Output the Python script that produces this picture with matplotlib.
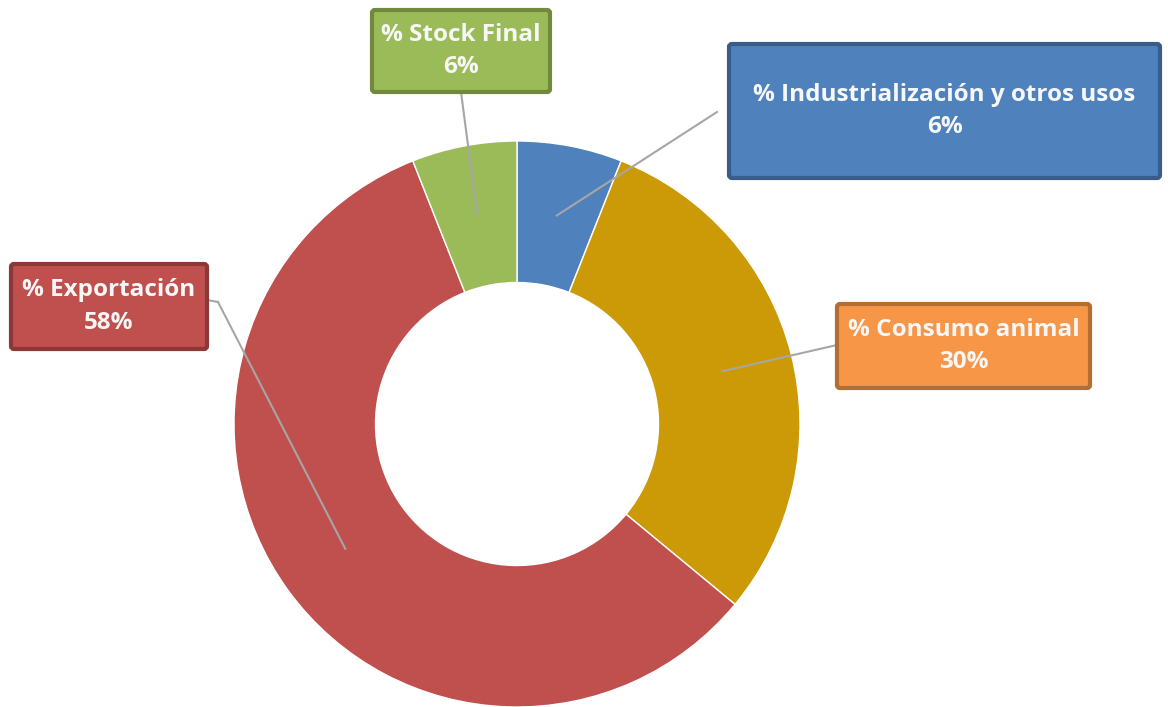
import numpy as np
import matplotlib
matplotlib.use("Agg")
import matplotlib.pyplot as plt
from matplotlib.patches import FancyBboxPatch

labels = ["% Industrialización y otros usos", "% Consumo animal", "% Exportación", "% Stock Final"]
values = [6, 30, 58, 6]
wedge_colors = ["#4F81BD", "#CC9A06", "#C0504D", "#9BBB59"]
box_colors = ["#4F81BD", "#F79646", "#C0504D", "#9BBB59"]
edge_colors = ["#385D8A", "#B66D31", "#8C3836", "#71893F"]

# label boxes in pixel coords (x0, y0 top, x1, y1 bottom)
boxes = [(729, 44, 1160, 178), (837, 304, 1090, 388), (11, 264, 207, 349), (372, 10, 550, 92)]
# point where the leader line meets the box
box_anchor = [(717, 112), (837, 345), (218, 302), (461, 92)]

W, H = 1168, 707
fig = plt.figure(figsize=(W / 100, H / 100), dpi=100)
ax = fig.add_axes([0, 0, 1, 1])

cx, cy, R = 517, H - 424, 283
width = 0.5
wedges, _ = ax.pie(values, colors=wedge_colors, startangle=90, counterclock=False,
                   center=(cx, cy), radius=R,
                   wedgeprops=dict(width=R * width, edgecolor="white", linewidth=1))
# pie resets the limits, so set them afterwards
ax.set_xlim(0, W)
ax.set_ylim(0, H)
ax.set_aspect("equal")
ax.axis("off")

mid_r = R * (1 - width / 2)
for i, w in enumerate(wedges):
    ang = np.deg2rad((w.theta1 + w.theta2) / 2)
    px, py = cx + mid_r * np.cos(ang), cy + mid_r * np.sin(ang)
    bx, by = box_anchor[i]
    if i == 2:
        ax.plot([207, bx], [H - 300, H - by], color="#A6A6A6", lw=1.5, zorder=3)
    ax.plot([bx, px], [H - by, py], color="#A6A6A6", lw=1.5, zorder=3)

    x0, y0, x1, y1 = boxes[i]
    ax.add_patch(FancyBboxPatch((x0, H - y1), x1 - x0, y1 - y0,
                                boxstyle="round,pad=0,rounding_size=3",
                                facecolor=box_colors[i], edgecolor=edge_colors[i],
                                linewidth=3, zorder=4))
    ax.text((x0 + x1) / 2, H - (y0 + y1) / 2, f"{labels[i]}\n{values[i]}%",
            ha="center", va="center", color="#F7F7F7", fontsize=17.5, fontweight="bold",
            family="Open Sans", linespacing=1.45, zorder=5)

fig.savefig("out.png", dpi=100)
